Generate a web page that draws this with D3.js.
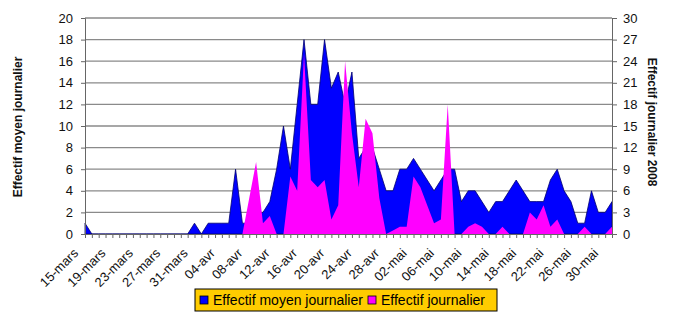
<!DOCTYPE html>
<html>
<head>
<meta charset="utf-8">
<script src="https://cdn.jsdelivr.net/npm/d3@7"></script>
<style>
  body { margin: 0; background: #fff; }
  text { font-family: "Liberation Sans", Arial, sans-serif; }
</style>
</head>
<body>
<svg id="chart"></svg>
<script>
// categories: one point per day, 15 mars -> 31 mai 2008
const days = [
  "15-mars","16-mars","17-mars","18-mars","19-mars","20-mars","21-mars","22-mars","23-mars","24-mars",
  "25-mars","26-mars","27-mars","28-mars","29-mars","30-mars","31-mars",
  "01-avr","02-avr","03-avr","04-avr","05-avr","06-avr","07-avr","08-avr","09-avr","10-avr",
  "11-avr","12-avr","13-avr","14-avr","15-avr","16-avr","17-avr","18-avr","19-avr","20-avr",
  "21-avr","22-avr","23-avr","24-avr","25-avr","26-avr","27-avr","28-avr","29-avr","30-avr",
  "01-mai","02-mai","03-mai","04-mai","05-mai","06-mai","07-mai","08-mai","09-mai","10-mai",
  "11-mai","12-mai","13-mai","14-mai","15-mai","16-mai","17-mai","18-mai","19-mai","20-mai",
  "21-mai","22-mai","23-mai","24-mai","25-mai","26-mai","27-mai","28-mai","29-mai","30-mai","31-mai"
];

// Effectif moyen journalier (left axis)
const moyen = [
  1,0,0,0,0,0,0,0,0,0, 0,0,0,0,0,0,1,0,1,1,
  1,1,6,1,1,2,2,3,6,10, 6,12,18,12,12,18,13.5,15,12,15,
  7,8,8,6,4,4,6,6,7,6, 5,4,5,6,6,3,4,4,3,2,
  3,3,4,5,4,3,3,3,5,6, 4,3,1,1,4,2,2,3
];

// Effectif journalier (right axis)
const journalier = [
  0,0,0,0,0,0,0,0,0,0, 0,0,0,0,0,0,0,0,0,0,
  0,0,0,0,5,10,1.5,2.5,0,0, 8,6,25,7.5,6.5,7.5,2,4,24,14,
  6.5,16,14,5,0,0.5,1,1,8,6.5, 4,1.5,2,18,0,0,1,1.5,1,0,
  0,1,0,0,0,3,2,4,1,2, 0,0,0,1,0,0,0,1
];

const leftTicks = d3.range(0, 21, 2);
const rightTicks = d3.range(0, 31, 3);
const labelEvery = 4;
const seriesNames = ["Effectif moyen journalier", "Effectif journalier"];
const seriesColors = ["#0000ff", "#ff00ff"];

const W = 674, H = 315;
const margin = {top: 18, right: 62, bottom: 81, left: 85};

const svg = d3.select("#chart").attr("width", W).attr("height", H);

const x = d3.scalePoint()
  .domain(d3.range(days.length))
  .range([margin.left, W - margin.right]);

const yL = d3.scaleLinear().domain([0, 20]).range([H - margin.bottom, margin.top]);
const yR = d3.scaleLinear().domain([0, 30]).range([H - margin.bottom, margin.top]);

// grid lines
svg.append("g")
  .selectAll("line")
  .data(leftTicks.slice(1))
  .join("line")
    .attr("x1", margin.left).attr("x2", W - margin.right)
    .attr("y1", d => yL(d)).attr("y2", d => yL(d))
    .attr("stroke", "#8a8a8a").attr("stroke-width", 1.3);

// areas
const areaL = d3.area()
  .x((d, i) => x(i))
  .y0(yL(0))
  .y1(d => yL(d));
const areaR = d3.area()
  .x((d, i) => x(i))
  .y0(yR(0))
  .y1(d => yR(d));

svg.append("path")
  .datum(moyen)
  .attr("d", areaL)
  .attr("fill", seriesColors[0])
  .attr("stroke", "#00006e")
  .attr("stroke-width", 0.8);

svg.append("path")
  .datum(journalier)
  .attr("d", areaR)
  .attr("fill", seriesColors[1]);

// left axis
const gL = svg.append("g")
  .attr("transform", `translate(${margin.left},0)`)
  .call(d3.axisLeft(yL).tickValues(leftTicks).tickSize(4).tickPadding(8));
gL.selectAll("text").attr("font-size", 13).attr("fill", "#111");

// right axis
const gR = svg.append("g")
  .attr("transform", `translate(${W - margin.right},0)`)
  .call(d3.axisRight(yR).tickValues(rightTicks).tickSize(5).tickPadding(6));
gR.selectAll("text").attr("font-size", 13).attr("fill", "#111");

// bottom axis
const gB = svg.append("g")
  .attr("transform", `translate(0,${H - margin.bottom})`)
  .call(d3.axisBottom(x).tickSize(4).tickFormat(""));
gB.selectAll("text").remove();

svg.selectAll(".domain").attr("stroke", "#666");
svg.selectAll(".tick line").attr("stroke", "#666");

svg.append("g")
  .selectAll("text")
  .data(days.filter((d, i) => i % labelEvery === 0 && i < 77))
  .join("text")
    .attr("transform", d => `translate(${x(days.indexOf(d)) - 6},${H - margin.bottom + 20}) rotate(-45)`)
    .attr("text-anchor", "end")
    .attr("font-size", 13)
    .attr("fill", "#111")
    .text(d => d);

// axis titles
svg.append("text")
  .attr("transform", "translate(22,127) rotate(-90)")
  .attr("text-anchor", "middle")
  .attr("font-size", 12)
  .attr("font-weight", "bold")
  .attr("fill", "#111")
  .text("Effectif moyen journalier");

svg.append("text")
  .attr("transform", "translate(648,122) rotate(90)")
  .attr("text-anchor", "middle")
  .attr("font-size", 12)
  .attr("font-weight", "bold")
  .attr("fill", "#111")
  .text("Effectif journalier 2008");

// legend
const leg = svg.append("g").attr("transform", "translate(195,289)");
leg.append("rect")
  .attr("width", 302).attr("height", 22)
  .attr("fill", "#ffcc00").attr("stroke", "#000").attr("stroke-width", 1);

const legX = [5, 173];
seriesNames.forEach((name, i) => {
  leg.append("rect")
    .attr("x", legX[i]).attr("y", 7).attr("width", 8).attr("height", 8)
    .attr("fill", seriesColors[i]).attr("stroke", "#000").attr("stroke-width", 0.8);
  leg.append("text")
    .attr("x", legX[i] + 13).attr("y", 16)
    .attr("font-size", 14)
    .attr("fill", "#000")
    .text(name);
});
</script>
</body>
</html>
